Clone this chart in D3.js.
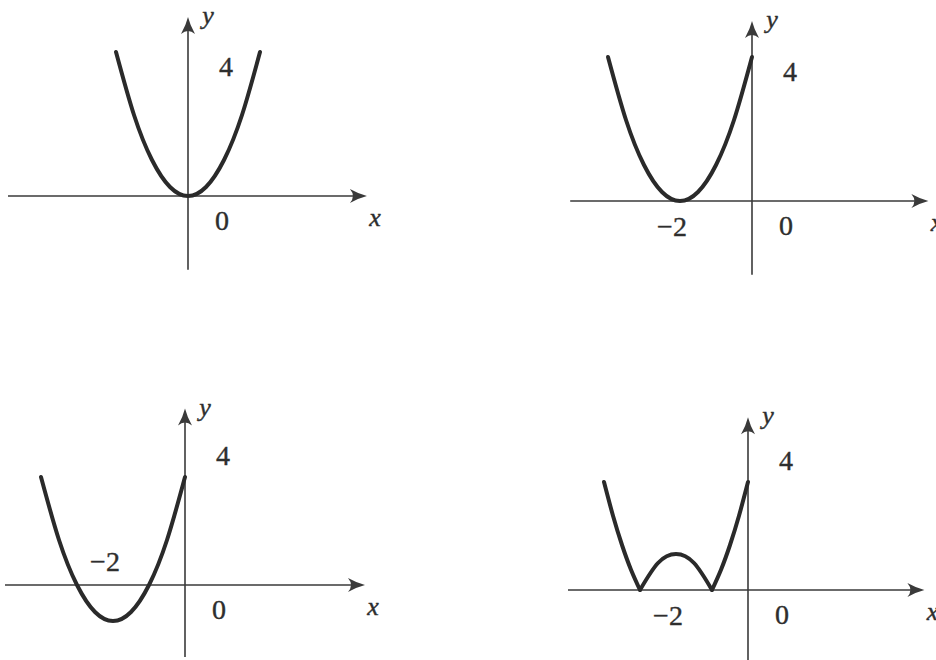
<!DOCTYPE html>
<html>
<head>
<meta charset="utf-8">
<script src="https://cdn.jsdelivr.net/npm/d3@7"></script>
<style>
  body { margin: 0; background: #fff; }
</style>
</head>
<body>
<svg id="chart"></svg>
<script>
// values
var xLeft  = [-2, -1.5, -1, -0.5, 0, 0.5, 1, 1.5, 2];
var yLeft  = [4, 2.25, 1, 0.25, 0, 0.25, 1, 2.25, 4];          // y = x^2

var xShift = [-4, -3.5, -3, -2.5, -2, -1.5, -1, -0.5, 0];
var yShift = [4, 2.25, 1, 0.25, 0, 0.25, 1, 2.25, 4];          // y = (x+2)^2

var yDown  = [3, 1.25, 0, -0.75, -1, -0.75, 0, 1.25, 3];       // y = (x+2)^2 - 1

// |(x+2)^2 - 1| is drawn in three pieces so the corners stay sharp
var xAbsA = [-4, -3.75, -3.5, -3.25, -3];
var yAbsA = [3, 2.0625, 1.25, 0.5625, 0];
var xAbsB = [-3, -2.5, -2, -1.5, -1];
var yAbsB = [0, 0.75, 1, 0.75, 0];
var xAbsC = [-1, -0.75, -0.5, -0.25, 0];
var yAbsC = [0, 0.5625, 1.25, 2.0625, 3];

var tickLabels = ["4", "0", "\u22122"];

function zip(xs, ys) {
  return xs.map(function(x, i) { return [x, ys[i]]; });
}

// layout of each small graph (origin in px, unit in px, axis extents in units)
var panels = [
  { ox: 188, oy: 196, unit: 36, xr: [-5, 4.97], yr: [-2.05, 4.97],
    pieces: [zip(xLeft, yLeft)], minus: null },
  { ox: 752, oy: 201, unit: 36, xr: [-5.05, 4.9], yr: [-2.05, 5.0],
    pieces: [zip(xShift, yShift)], minus: "below" },
  { ox: 185, oy: 585, unit: 36, xr: [-5.0, 5.0], yr: [-2.0, 4.9],
    pieces: [zip(xShift, yDown)], minus: "above" },
  { ox: 748, oy: 590, unit: 36, xr: [-5.0, 4.9], yr: [-2.0, 4.8],
    pieces: [zip(xAbsA, yAbsA), zip(xAbsB, yAbsB), zip(xAbsC, yAbsC)], minus: "below" }
];

var svg = d3.select("#chart").attr("width", 936).attr("height", 660);

var axisColor = "#3a3a3a";
var curveColor = "#2a2a2a";
var textColor = "#2e2e2e";
var serif = "Liberation Serif, Times New Roman, DejaVu Serif, serif";

// LaTeX-like dart arrow head, tip at (0,0) pointing right
var arrowPath = "M0,0 Q-8,-2 -17,-7 Q-11,0 -17,7 Q-8,2 0,0 Z";

function label(g, txt, x, y, italic, size) {
  return g.append("text").text(txt)
    .attr("x", x).attr("y", y)
    .attr("text-anchor", "middle")
    .attr("font-family", serif)
    .attr("font-size", size || 28)
    .attr("font-style", italic ? "italic" : "normal")
    .attr("fill", textColor)
    .attr("stroke", textColor)
    .attr("stroke-width", 0.4);
}

panels.forEach(function(p) {
  var x = d3.scaleLinear().domain([0, 1]).range([p.ox, p.ox + p.unit]);
  var y = d3.scaleLinear().domain([0, 1]).range([p.oy, p.oy - p.unit]);

  var g = svg.append("g");

  // axes
  g.append("line")
    .attr("x1", x(p.xr[0])).attr("x2", x(p.xr[1]) - 4)
    .attr("y1", y(0)).attr("y2", y(0))
    .attr("stroke", axisColor).attr("stroke-width", 1.6);
  g.append("line")
    .attr("x1", x(0)).attr("x2", x(0))
    .attr("y1", y(p.yr[0])).attr("y2", y(p.yr[1]) + 4)
    .attr("stroke", axisColor).attr("stroke-width", 1.6);

  g.append("path").attr("d", arrowPath)
    .attr("transform", "translate(" + x(p.xr[1]) + "," + y(0) + ")")
    .attr("fill", axisColor);
  g.append("path").attr("d", arrowPath)
    .attr("transform", "translate(" + x(0) + "," + y(p.yr[1]) + ") rotate(-90)")
    .attr("fill", axisColor);

  // the curve
  var line = d3.line()
    .x(function(d) { return x(d[0]); })
    .y(function(d) { return y(d[1]); })
    .curve(d3.curveNatural);

  g.selectAll("path.curve")
    .data(p.pieces)
    .enter().append("path")
    .attr("class", "curve")
    .attr("d", line)
    .attr("fill", "none")
    .attr("stroke", curveColor)
    .attr("stroke-width", 4)
    .attr("stroke-linecap", "round")
    .attr("stroke-linejoin", "miter");

  // axis names
  label(g, "y", x(0) + 20, y(p.yr[1]) + 7, true, 26);
  label(g, "x", x(p.xr[1]) + 8, y(0) + 30, true, 26);

  // tick labels
  label(g, tickLabels[0], x(1) + 2, y(4) + 24, false);
  label(g, tickLabels[1], x(0) + 34, y(0) + 34, false);
  if (p.minus) {
    label(g, tickLabels[2], x(-2) - 8, p.minus === "below" ? y(0) + 35 : y(0) - 14, false);
  }
});
</script>
</body>
</html>
